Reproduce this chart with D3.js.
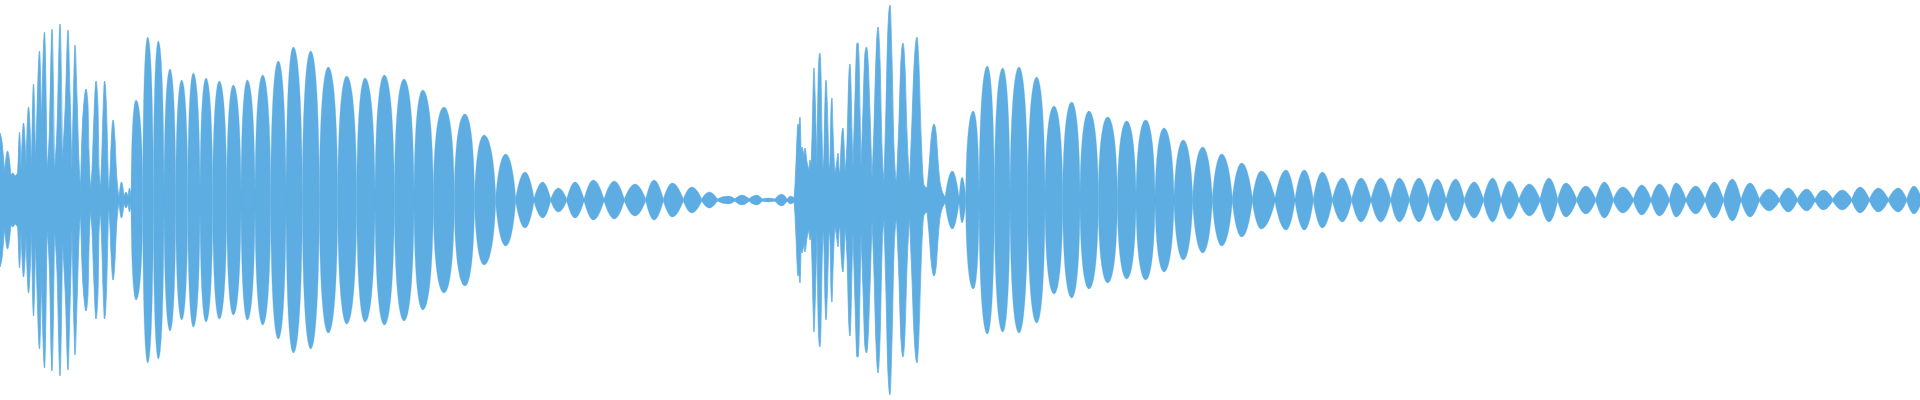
<!DOCTYPE html>
<html>
<head>
<meta charset="utf-8">
<script src="https://cdn.jsdelivr.net/npm/d3@7/dist/d3.min.js"></script>
<style>
  html, body { margin: 0; padding: 0; background: #ffffff; }
  svg { display: block; }
</style>
</head>
<body>
<svg id="chart" width="1920" height="400"></svg>
<script>
// Waveform envelope: [time (s), amplitude (fraction of full scale)]
const onset1 = [
  [0.000,0.335],[0.002,0.290],[0.0045,0.140],[0.0075,0.245],[0.011,0.120],[0.0125,0.135],
  [0.015,0.120],[0.0175,0.135],[0.0195,0.340],[0.021,0.145],[0.0235,0.385],[0.026,0.175],
  [0.0285,0.465],[0.0315,0.150],[0.0335,0.580],[0.0355,0.200],[0.037,0.450],[0.0395,0.745],
  [0.0415,0.385],[0.0445,0.840],[0.047,0.150],[0.0495,0.360],[0.052,0.855],[0.0545,0.150],
  [0.057,0.360],[0.060,0.880],[0.0625,0.205],[0.0655,0.500],[0.068,0.850],[0.070,0.535],
  [0.072,0.135],[0.074,0.640],[0.075,0.775],[0.077,0.515],[0.079,0.190],[0.0805,0.065],
  [0.082,0.325],[0.084,0.490],[0.086,0.555],[0.088,0.470],[0.089,0.240],[0.0905,0.060],
  [0.092,0.150],[0.094,0.420],[0.096,0.595],[0.098,0.465],[0.099,0.160],[0.1005,0.065],
  [0.102,0.260],[0.103,0.435],[0.1045,0.595],[0.106,0.515],[0.107,0.365],[0.1085,0.035],
  [0.110,0.140],[0.111,0.265],[0.113,0.400],[0.115,0.300],[0.116,0.185],[0.117,0.100],
  [0.119,0.015],[0.1215,0.090],[0.124,0.015],[0.126,0.040],[0.128,0.015],[0.1295,0.060],
  [0.131,0.015]
];

const decay1 = [
  [0.136,0.500],[0.1427,0.050],[0.1477,0.815],[0.1533,0.050],[0.1583,0.795],[0.164,0.050],
  [0.170,0.655],[0.1757,0.050],[0.1817,0.600],[0.1877,0.050],[0.1933,0.635],[0.200,0.050],
  [0.206,0.610],[0.2127,0.050],[0.2193,0.595],[0.2267,0.050],[0.2333,0.575],[0.241,0.040],
  [0.2473,0.600],[0.255,0.040],[0.2627,0.625],[0.2707,0.040],[0.2783,0.695],[0.286,0.040],
  [0.2933,0.765],[0.3023,0.040],[0.3107,0.745],[0.3193,0.040],[0.3283,0.665],[0.3377,0.040],
  [0.3467,0.620],[0.3567,0.040],[0.365,0.610],[0.375,0.040],[0.3843,0.625],[0.3943,0.040],
  [0.404,0.605],[0.414,0.040],[0.4227,0.550],[0.4333,0.035],[0.444,0.465],[0.4543,0.030],
  [0.465,0.430],[0.4745,0.020],[0.484,0.325],[0.4957,0.015],[0.5057,0.230],[0.5157,0.010],
  [0.525,0.140],[0.534,0.010],[0.5427,0.090],[0.5507,0.006],[0.5583,0.060],[0.5667,0.006],
  [0.575,0.090],[0.584,0.006],[0.5933,0.100],[0.604,0.006],[0.6143,0.095],[0.6243,0.006],
  [0.635,0.080],[0.6457,0.006],[0.654,0.100],[0.6633,0.006],[0.6723,0.085],[0.6833,0.006],
  [0.6917,0.065],[0.7017,0.006],[0.7093,0.040],[0.7173,0.006],[0.728,0.020],[0.735,0.006],
  [0.742,0.025],[0.749,0.006],[0.7567,0.025],[0.762,0.006],[0.768,0.010],[0.775,0.006],
  [0.7817,0.030],[0.787,0.006],[0.791,0.020],[0.794,0.010]
];

const onset2 = [
  [0.795,0.075],[0.796,0.185],[0.798,0.380],[0.799,0.365],[0.800,0.415],[0.801,0.235],
  [0.802,0.265],[0.804,0.215],[0.805,0.260],[0.807,0.190],[0.809,0.150],[0.810,0.200],
  [0.811,0.175],[0.812,0.310],[0.813,0.525],[0.814,0.660],[0.815,0.540],[0.816,0.365],
  [0.817,0.150],[0.818,0.565],[0.819,0.710],[0.820,0.735],[0.821,0.625],[0.822,0.335],
  [0.823,0.150],[0.824,0.240],[0.825,0.500],[0.826,0.600],[0.827,0.515],[0.828,0.350],
  [0.829,0.150],[0.830,0.200],[0.831,0.450],[0.832,0.510],[0.833,0.350],[0.834,0.215],
  [0.835,0.130],[0.837,0.200],[0.838,0.235],[0.839,0.160],[0.840,0.130],[0.841,0.265],
  [0.843,0.360],[0.844,0.285],[0.845,0.140],[0.847,0.285],[0.849,0.635],[0.850,0.680],
  [0.851,0.565],[0.852,0.335],[0.853,0.160],[0.855,0.510],[0.857,0.785],[0.858,0.785],
  [0.859,0.715],[0.860,0.450],[0.861,0.160],[0.863,0.450],[0.865,0.735],[0.8665,0.765],
  [0.868,0.700],[0.870,0.435],[0.872,0.100],[0.874,0.365],[0.876,0.715],[0.878,0.865],
  [0.880,0.700],[0.882,0.265],[0.884,0.100],[0.886,0.465],[0.888,0.865],[0.890,0.975],
  [0.892,0.700],[0.894,0.265],[0.8965,0.090],[0.899,0.400],[0.901,0.700],[0.903,0.785],
  [0.905,0.665],[0.907,0.335],[0.9095,0.085],[0.912,0.400],[0.914,0.665],[0.917,0.815],
  [0.919,0.665],[0.921,0.335],[0.924,0.075],[0.927,0.060],[0.929,0.165],[0.931,0.300],
  [0.934,0.380],[0.936,0.340],[0.938,0.200],[0.940,0.090],[0.945,0.015]
];

const decay2 = [
  [0.9523,0.145],[0.959,0.015],
  [0.962,0.115],[0.9657,0.025],[0.9733,0.445],[0.979,0.035],[0.9873,0.670],[0.9943,0.035],
  [1.0027,0.660],[1.010,0.035],[1.019,0.665],[1.0277,0.035],[1.0367,0.615],[1.045,0.035],
  [1.054,0.470],[1.0627,0.035],[1.0717,0.490],[1.080,0.030],[1.089,0.445],[1.0983,0.030],
  [1.1077,0.415],[1.1173,0.025],[1.1267,0.395],[1.136,0.025],[1.1457,0.400],[1.155,0.020],
  [1.164,0.360],[1.174,0.020],[1.1833,0.300],[1.1927,0.015],[1.2027,0.265],[1.2123,0.010],
  [1.2217,0.230],[1.2323,0.010],[1.2417,0.185],[1.2523,0.010],[1.261,0.145],[1.275,0.010],
  [1.286,0.150],[1.295,0.006],[1.3043,0.150],[1.3133,0.006],[1.3223,0.140],[1.3323,0.006],
  [1.3423,0.110],[1.3517,0.006],[1.361,0.110],[1.371,0.006],[1.3807,0.110],[1.3907,0.006],
  [1.3993,0.110],[1.4093,0.006],[1.419,0.110],[1.4283,0.006],[1.4373,0.105],[1.446,0.006],
  [1.4557,0.105],[1.4643,0.006],[1.4743,0.090],[1.4833,0.006],[1.4927,0.110],[1.501,0.006],
  [1.5093,0.095],[1.519,0.006],[1.5293,0.080],[1.540,0.006],[1.549,0.110],[1.5577,0.006],
  [1.5657,0.085],[1.5767,0.006],[1.5857,0.070],[1.5957,0.006],[1.6043,0.090],[1.6133,0.006],
  [1.6227,0.065],[1.6333,0.006],[1.6417,0.075],[1.651,0.006],[1.6593,0.080],[1.6693,0.006],
  [1.676,0.085],[1.686,0.006],[1.6957,0.070],[1.705,0.006],[1.7143,0.090],[1.7233,0.006],
  [1.7323,0.105],[1.741,0.006],[1.750,0.085],[1.7593,0.006],[1.769,0.055],[1.7793,0.006],
  [1.7883,0.060],[1.7973,0.006],[1.8067,0.055],[1.815,0.006],[1.8233,0.050],[1.8327,0.006],
  [1.8423,0.050],[1.8517,0.006],[1.860,0.065],[1.8693,0.006],[1.8783,0.060],[1.8883,0.006],
  [1.8983,0.060],[1.9067,0.006],[1.914,0.070],[1.920,0.030]
];

const duration = 1.92;
const waveColor = "#5DADE2";

const svg = d3.select("#chart");
const W = 1920, H = 400;

const x = d3.scaleLinear().domain([0, duration]).range([0, W]);
const y = d3.scaleLinear().domain([-1, 1]).range([H, 0]);

const toPts = arr => arr.map(d => ({t: d[0], a: d[1]}));
const sections = [
  {kind: "dense", pts: toPts(onset1)},
  {kind: "ring",  pts: toPts(decay1)},
  {kind: "dense", pts: toPts(onset2)},
  {kind: "ring",  pts: toPts(decay2)}
];
// each section continues from the previous section's last point
for (let i = 1; i < sections.length; i++) {
  const prev = sections[i - 1].pts;
  sections[i].pts = [prev[prev.length - 1]].concat(sections[i].pts);
}

const g = svg.append("g").attr("fill", waveColor).attr("stroke", waveColor);

const monoArea = d3.area()
  .x(d => x(d.t))
  .y0(d => y(-d.a))
  .y1(d => y(d.a))
  .curve(d3.curveMonotoneX);

const lerp = (a, b, f) => a + (b - a) * f;

function lobePath(L, P, R) {
  const X0 = x(L.t), Xp = x(P.t), X1 = x(R.t);
  const base = Math.min(L.a, R.a);
  const ampPx = y(0) - y(P.a - base);
  const f = Math.max(0, Math.min(1, (ampPx - 18) / 60));
  const p = lerp(0.30, 0.04, f);
  const q = lerp(0.52, 0.62, f);
  const r = lerp(0.36, 0.55, f);
  const pth = d3.path();
  const s = sgn => ({
    y0: y(sgn * L.a),
    c1y: y(sgn * (L.a + q * (P.a - L.a))),
    yp: y(sgn * P.a),
    c4y: y(sgn * (R.a + q * (P.a - R.a))),
    y1: y(sgn * R.a)
  });
  const top = s(1), bot = s(-1);
  const dl = Xp - X0, dr = X1 - Xp;
  pth.moveTo(X0, top.y0);
  pth.bezierCurveTo(X0 + p * dl, top.c1y, Xp - r * dl, top.yp, Xp, top.yp);
  pth.bezierCurveTo(Xp + r * dr, top.yp, X1 - p * dr, top.c4y, X1, top.y1);
  pth.lineTo(X1, bot.y1);
  pth.bezierCurveTo(X1 - p * dr, bot.c4y, Xp + r * dr, bot.yp, Xp, bot.yp);
  pth.bezierCurveTo(Xp - r * dl, bot.yp, X0 + p * dl, bot.c1y, X0, bot.y0);
  pth.closePath();
  return pth.toString();
}

function splitAtMinima(pts) {
  const lobes = [];
  let cur = [pts[0]];
  for (let i = 1; i < pts.length; i++) {
    cur.push(pts[i]);
    const isMin = i < pts.length - 1 && pts[i].a <= pts[i - 1].a && pts[i].a <= pts[i + 1].a;
    if (isMin) { lobes.push(cur); cur = [pts[i]]; }
  }
  if (cur.length > 1) lobes.push(cur);
  return lobes;
}

sections.forEach(sec => {
  const lobes = splitAtMinima(sec.pts);
  g.append("g")
    .attr("stroke-width", sec.kind === "dense" ? 0.8 : 0.3)
    .selectAll("path")
    .data(lobes)
    .join("path")
    .attr("d", lb => (sec.kind === "ring" && lb.length === 3) ? lobePath(lb[0], lb[1], lb[2]) : monoArea(lb));
});
</script>
</body>
</html>
